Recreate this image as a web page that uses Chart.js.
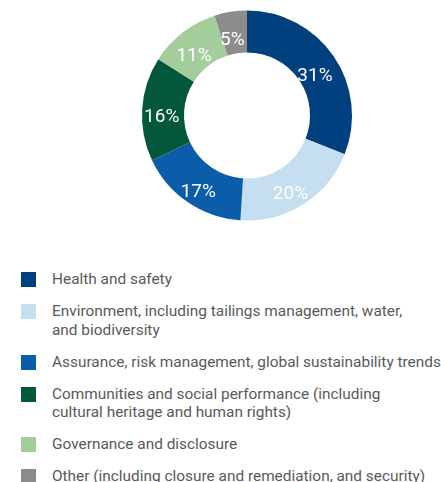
<!DOCTYPE html>
<html lang="en">

<head>
    <meta charset="UTF-8">
    <meta name="viewport" content="width=device-width, initial-scale=1.0">
    <title>Topics</title>
    <script src="https://cdn.jsdelivr.net/npm/chart.js"></script>
    <style>
        body {
            margin: 0;
            background: #fff;
            font-family: Roboto, sans-serif;
        }

        .grafico {
            position: absolute;
            left: 0;
            top: 0;
            width: 441px;
            height: 230px;
        }

        #legenda {
            position: absolute;
            left: 21px;
            top: 270px;
        }

        .item {
            display: flex;
            align-items: flex-start;
            margin-bottom: 13.5px;
        }

        .quadrado {
            width: 15px;
            height: 15px;
            margin-top: 2px;
            margin-right: 16px;
            flex: none;
        }

        .texto {
            font-size: 15.4px;
            line-height: 18.5px;
            color: #595959;
            white-space: nowrap;
        }
    </style>
</head>

<body>
    <div class="grafico">
        <canvas id="myChart"></canvas>
    </div>
    <div id="legenda"></div>
</body>
<script>
    // categorias (quebras de linha como no original)
    var categorias = [
        ['Health and safety'],
        ['Environment, including tailings management, water,', 'and biodiversity'],
        ['Assurance, risk management, global sustainability trends'],
        ['Communities and social performance (including', 'cultural heritage and human rights)'],
        ['Governance and disclosure'],
        ['Other (including closure and remediation, and security)']
    ]
    var percentuais = [31, 20, 17, 16, 11, 5]
    var cores = ['#00407f', '#c5dff1', '#0b5daa', '#03573a', '#a4cd9c', '#8c8c8c']

    // escreve o % no meio de cada fatia
    const rotulos = {
        id: 'rotulos',
        afterDatasetsDraw(chart) {
            const ctx = chart.ctx
            const meta = chart.getDatasetMeta(0)
            ctx.save()
            ctx.fillStyle = '#fff'
            ctx.font = '19px Roboto'
            ctx.textAlign = 'center'
            ctx.textBaseline = 'middle'
            meta.data.forEach(function (arco, i) {
                const pos = arco.tooltipPosition()
                ctx.fillText(percentuais[i] + '%', pos.x - 1.5, pos.y + 7.5)
            })
            ctx.restore()
        }
    }

    const dados = {
        labels: categorias.map(c => c.join(' ')),
        datasets: [{
            data: percentuais,
            backgroundColor: cores,
            borderWidth: 0
        }]
    }

    const config = {
        type: 'doughnut',
        data: dados,
        options: {
            responsive: true,
            maintainAspectRatio: false,
            animation: false,
            cutout: '60%',
            layout: {
                padding: { left: 53, top: 10.5, bottom: 9.5, right: 0 }
            },
            plugins: {
                legend: { display: false },
                tooltip: { enabled: false }
            }
        },
        plugins: [rotulos]
    }

    let myChart = new Chart(document.getElementById('myChart'), config)

    // legenda em html
    var legenda = document.getElementById('legenda')
    for (var i = 0; i < categorias.length; i++) {
        var item = document.createElement('div')
        item.className = 'item'
        item.innerHTML = `<div class="quadrado" style="background:${cores[i]}"></div>
            <div class="texto">${categorias[i].join('<br>')}</div>`
        legenda.appendChild(item)
    }
</script>

</html>
